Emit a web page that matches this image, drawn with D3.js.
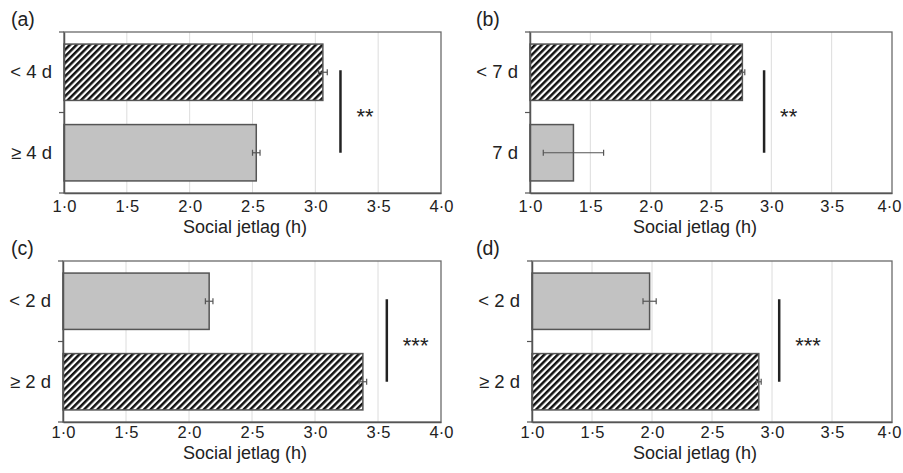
<!DOCTYPE html>
<html>
<head>
<meta charset="utf-8">
<script src="https://cdn.jsdelivr.net/npm/d3@7"></script>
<style>
  body { margin: 0; background: #fff; }
  text { font-family: "Liberation Sans", Arial, sans-serif; fill: #222; }
</style>
</head>
<body>
<div id="container"></div>
<script>
/* DATA */
const panelLabels = ["(a)", "(b)", "(c)", "(d)"]
const categories = [
  ["< 4 d", "≥ 4 d"],
  ["< 7 d", "7 d"],
  ["< 2 d", "≥ 2 d"],
  ["< 2 d", "≥ 2 d"]
]
const means = [[3.06, 2.53], [2.76, 1.36], [2.16, 3.38], [1.98, 2.89]]
const errors = [[0.035, 0.03], [0.02, 0.25], [0.03, 0.03], [0.055, 0.02]]
const hatched = [[true, false], [true, false], [false, true], [false, true]]
const sigX = [3.20, 2.94, 3.57, 3.06]
const sigLabels = ["**", "**", "***", "***"]
const xTicks = [1.0, 1.5, 2.0, 2.5, 3.0, 3.5, 4.0]
const xTitle = "Social jetlag (h)"

/* LAYOUT */
const width = 903, height = 473
const boxes = [
  { left: 64, right: 441, top: 32, bottom: 193, titleX: 245, tickPad: 7, titleDy: 40 },
  { left: 530, right: 892, top: 32, bottom: 193, titleX: 695, tickPad: 7, titleDy: 40 },
  { left: 63, right: 441, top: 261, bottom: 422, titleX: 245, tickPad: 4, titleDy: 37 },
  { left: 532, right: 892, top: 261, bottom: 422, titleX: 695, tickPad: 4, titleDy: 37 }
]

const svg = d3.select("#container")
  .append("svg")
  .attr("width", width)
  .attr("height", height)

// diagonal hatch
svg.append("defs")
  .append("pattern")
  .attr("id", "hatch")
  .attr("patternUnits", "userSpaceOnUse")
  .attr("width", 4.7)
  .attr("height", 10)
  .attr("patternTransform", "rotate(45)")
  .call(p => {
    p.append("rect").attr("width", 4.7).attr("height", 10).attr("fill", "#fff")
    p.append("rect").attr("width", 2.5).attr("height", 10).attr("fill", "#111")
  })

const fmt = v => d3.format(".1f")(v).replace(".", "·")

boxes.forEach((b, i) => {
  const g = svg.append("g")

  const x = d3.scaleLinear().domain([1, 4]).range([b.left, b.right])
  const y = d3.scaleBand().domain(categories[i]).range([b.top, b.bottom]).paddingInner(0.3).paddingOuter(0.15)
  const rows = categories[i].map((c, j) => ({ cat: c, mean: means[i][j], err: errors[i][j], hatch: hatched[i][j] }))

  // gridlines
  g.selectAll("line.grid")
    .data(xTicks.slice(1, -1))
    .join("line")
    .attr("class", "grid")
    .attr("x1", d => x(d)).attr("x2", d => x(d))
    .attr("y1", b.top).attr("y2", b.bottom)
    .attr("stroke", "#dcdcdc")

  // frame
  g.append("rect")
    .attr("x", b.left).attr("y", b.top)
    .attr("width", b.right - b.left).attr("height", b.bottom - b.top)
    .attr("fill", "none").attr("stroke", "#6a6a6a").attr("stroke-width", 1.3)

  // bars
  g.selectAll("rect.bar")
    .data(rows)
    .join("rect")
    .attr("class", "bar")
    .attr("x", x(1))
    .attr("y", d => y(d.cat))
    .attr("width", d => x(d.mean) - x(1))
    .attr("height", y.bandwidth())
    .attr("fill", d => d.hatch ? "url(#hatch)" : "#c2c2c2")
    .attr("stroke", "#555")
    .attr("stroke-width", 1.5)

  // error bars
  const eb = g.selectAll("g.err")
    .data(rows)
    .join("g")
    .attr("class", "err")
    .attr("transform", d => `translate(0,${y(d.cat) + y.bandwidth() / 2})`)
  eb.append("line")
    .attr("x1", d => x(d.mean - d.err)).attr("x2", d => x(d.mean + d.err))
    .attr("stroke", "#555").attr("stroke-width", 1.2)
  eb.selectAll("line.cap")
    .data(d => [d.mean - d.err, d.mean + d.err])
    .join("line")
    .attr("class", "cap")
    .attr("x1", d => x(d)).attr("x2", d => x(d))
    .attr("y1", -3).attr("y2", 3)
    .attr("stroke", "#555").attr("stroke-width", 1.2)

  // axes
  const xAxis = g.append("g")
    .attr("transform", `translate(0,${b.bottom})`)
    .call(d3.axisBottom(x).tickValues(xTicks).tickFormat(fmt).tickSize(0).tickPadding(b.tickPad))
  xAxis.select(".domain").attr("stroke", "#555").attr("stroke-width", 1.5)
  xAxis.selectAll("text").attr("font-size", 16.5).attr("fill", "#222")
  // last label sits at the page edge on the right-hand panels
  if (b.right > 880) xAxis.selectAll(".tick:last-of-type text").attr("dx", -3)

  const yAxis = g.append("g")
    .attr("transform", `translate(${b.left},0)`)
    .call(d3.axisLeft(y).tickSize(0).tickPadding(12))
  yAxis.select(".domain").attr("stroke", "#555").attr("stroke-width", 1.5)
  yAxis.selectAll("text").attr("font-size", 18.5).attr("fill", "#222")

  // left ticks at band edges
  g.selectAll("line.ytick")
    .data([b.top, (b.top + b.bottom) / 2, b.bottom])
    .join("line")
    .attr("class", "ytick")
    .attr("x1", b.left - 5).attr("x2", b.left)
    .attr("y1", d => d).attr("y2", d => d)
    .attr("stroke", "#555").attr("stroke-width", 1.2)

  // significance
  const c0 = y(categories[i][0]) + y.bandwidth() / 2
  const c1 = y(categories[i][1]) + y.bandwidth() / 2
  g.append("line")
    .attr("x1", x(sigX[i])).attr("x2", x(sigX[i]))
    .attr("y1", c0 - 2).attr("y2", c1)
    .attr("stroke", "#222").attr("stroke-width", 2.5)
  g.append("text")
    .attr("x", x(sigX[i]) + 16)
    .attr("y", (b.top + b.bottom) / 2 + 11)
    .attr("font-size", 22)
    .text(sigLabels[i])

  // titles
  g.append("text")
    .attr("x", b.titleX)
    .attr("y", b.bottom + b.titleDy)
    .attr("text-anchor", "middle")
    .attr("font-size", 18)
    .text(xTitle)

  g.append("text")
    .attr("x", b.left < 100 ? 11 : 476)
    .attr("y", b.top - 6)
    .attr("font-size", 19.5)
    .text(panelLabels[i])
})
</script>
</body>
</html>
